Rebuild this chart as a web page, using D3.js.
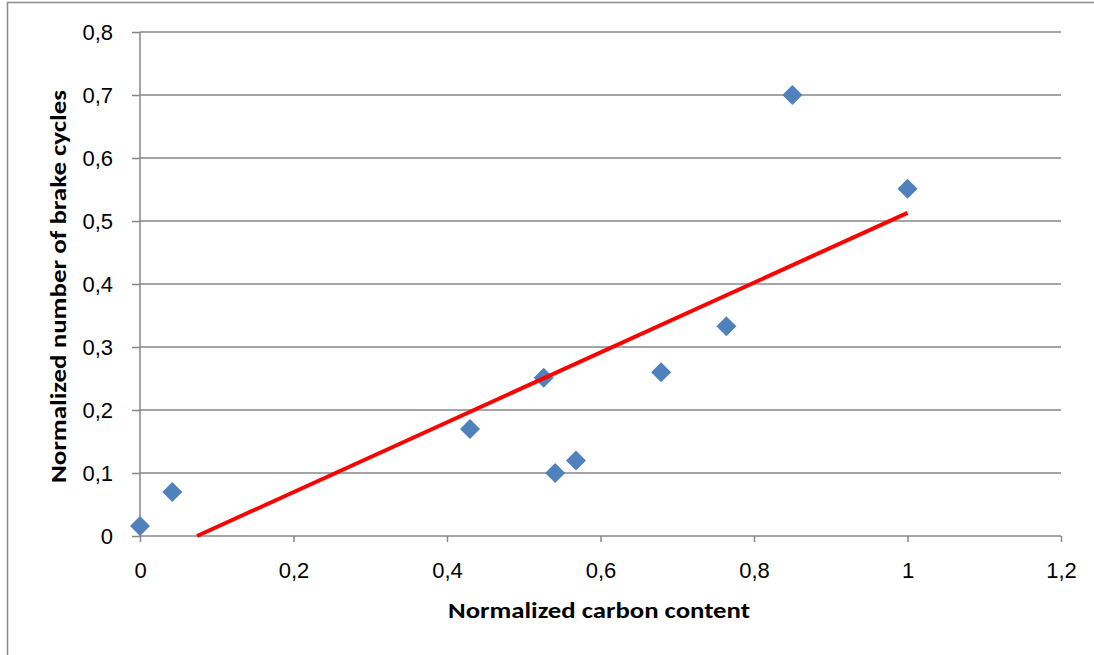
<!DOCTYPE html>
<html>
<head>
<meta charset="utf-8">
<script src="https://cdn.jsdelivr.net/npm/d3@7"></script>
<style>
  body { margin: 0; background: #fff; }
  svg { display: block; font-family: Carlito, Lato, "Open Sans", sans-serif; }
</style>
</head>
<body>
<svg id="chart" width="1094" height="655"></svg>
<script>
// carbon content (x) vs brake cycles (y)
var carbon = [0, 0.042, 0.43, 0.526, 0.541, 0.568, 0.679, 0.764, 0.85, 1];
var cycles = [0.016, 0.07, 0.17, 0.251, 0.1, 0.12, 0.26, 0.333, 0.7, 0.551];

// linear trendline end points (clipped at y = 0)
var trendX = [0.0743, 1];
var trendY = [0, 0.513];

var xTicks = [0, 0.2, 0.4, 0.6, 0.8, 1, 1.2];
var yTicks = [0, 0.1, 0.2, 0.3, 0.4, 0.5, 0.6, 0.7, 0.8];

var xTitle = "Normalized carbon content";
var yTitle = "Normalized number of brake cycles";

var svg = d3.select("#chart");
var gray = "#878787";

var x = d3.scaleLinear().domain([0, 1.2]).range([140, 1061]);
var y = d3.scaleLinear().domain([0, 0.8]).range([536, 32]);

var fmt = function (d) { return String(d).replace(".", ","); };

// outer chart border (runs off the right and bottom edge)
svg.append("rect")
    .attr("x", 7.5).attr("y", 2.5)
    .attr("width", 1200).attr("height", 800)
    .attr("fill", "none")
    .attr("stroke", "#8c8c8c")
    .attr("stroke-width", 1.5);

// gridlines
svg.append("g")
    .selectAll("line")
    .data(yTicks.filter(function (d) { return d > 0; }))
    .enter()
    .append("line")
    .attr("x1", x(0)).attr("x2", x(1.2))
    .attr("y1", function (d) { return y(d); })
    .attr("y2", function (d) { return y(d); })
    .attr("stroke", gray)
    .attr("stroke-width", 1.5);

// y axis
var yAxis = svg.append("g")
    .attr("transform", "translate(" + x(0) + ",0)")
    .call(d3.axisLeft(y).tickValues(yTicks).tickFormat(fmt).tickSize(8).tickPadding(19));

// x axis
var xAxis = svg.append("g")
    .attr("transform", "translate(0," + y(0) + ")")
    .call(d3.axisBottom(x).tickValues(xTicks).tickFormat(fmt).tickSize(6));

[xAxis, yAxis].forEach(function (g) {
    g.select(".domain").attr("stroke", gray).attr("stroke-width", 1.5);
    g.selectAll(".tick line").attr("stroke", gray).attr("stroke-width", 1.5);
    g.selectAll(".tick text")
        .attr("fill", "#000")
        .style("font-size", "22px");
});
xAxis.select(".domain").attr("d", "M" + x(0) + ",0H" + x(1.2));
yAxis.select(".domain").attr("d", "M0," + y(0) + "V" + y(0.8));
xAxis.selectAll(".tick text").attr("y", 42).attr("dy", 0);

// data points
var points = carbon.map(function (c, i) { return [c, cycles[i]]; });
svg.append("g")
    .selectAll("path")
    .data(points)
    .enter()
    .append("path")
    .attr("transform", function (d) { return "translate(" + x(d[0]) + "," + y(d[1]) + ")"; })
    .attr("d", "M0,-10L10,0L0,10L-10,0Z")
    .attr("fill", "#4f81bd");

// trendline
svg.append("path")
    .datum(trendX.map(function (t, i) { return [t, trendY[i]]; }))
    .attr("d", d3.line().x(function (d) { return x(d[0]); }).y(function (d) { return y(d[1]); }))
    .attr("fill", "none")
    .attr("stroke", "#ff0000")
    .attr("stroke-width", 4);

// axis titles
svg.append("text")
    .attr("x", 599)
    .attr("y", 618)
    .attr("text-anchor", "middle")
    .attr("textLength", 302)
    .attr("lengthAdjust", "spacingAndGlyphs")
    .style("font-size", "23px")
    .style("font-weight", "bold")
    .text(xTitle);

svg.append("text")
    .attr("transform", "translate(66,286.5) rotate(-90)")
    .attr("text-anchor", "middle")
    .attr("textLength", 393)
    .attr("lengthAdjust", "spacingAndGlyphs")
    .style("font-size", "23px")
    .style("font-weight", "bold")
    .text(yTitle);
</script>
</body>
</html>
